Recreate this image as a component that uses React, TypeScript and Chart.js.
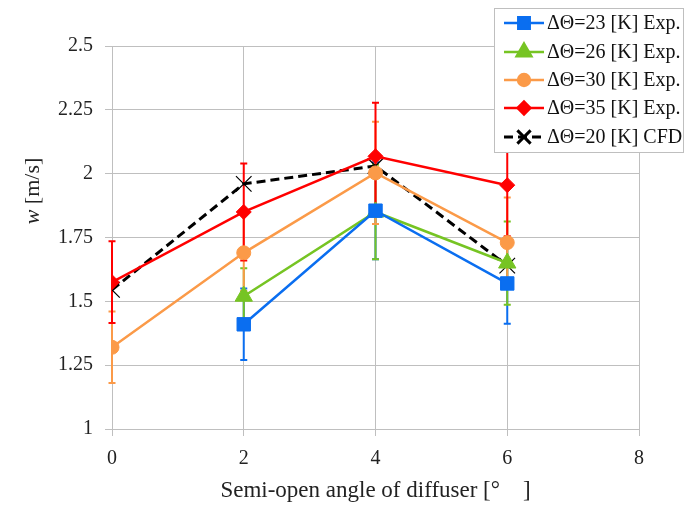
import React, { useEffect, useRef } from "react";
import { Chart, registerables } from "chart.js";
import { drawPoint } from "chart.js/helpers";

Chart.register(...registerables);

const xValues = [0, 2, 4, 6];
const dT23 = [null, 1.41, 1.855, 1.57];
const dT23Err = [null, 0.14, 0.19, 0.158];
const dT26 = [null, 1.52, 1.85, 1.65];
const dT26Err = [null, 0.11, 0.185, 0.163];
const dT30 = [1.32, 1.69, 2.003, 1.73];
const dT30Err = [0.14, 0.15, 0.2, 0.177];
const dT35 = [1.575, 1.85, 2.068, 1.955];
const dT35Err = [0.16, 0.19, 0.21, 0.2];
const cfd20 = [1.545, 1.96, 2.03, 1.64];

const labels = [
  "ΔΘ=23 [K] Exp.",
  "ΔΘ=26 [K] Exp.",
  "ΔΘ=30 [K] Exp.",
  "ΔΘ=35 [K] Exp.",
  "ΔΘ=20 [K] CFD",
];

const FONT = "'Liberation Serif', serif";

const toPts = (arr: (number | null)[]) =>
  xValues.map((x, i) => ({ x, y: arr[i] })).filter((p) => p.y !== null);

export default function App() {
  const ref = useRef<HTMLCanvasElement>(null);
  useEffect(() => {
    if (!ref.current) return;
    const errs = [dT23Err, dT26Err, dT30Err, dT35Err, null];
    const series = [dT23, dT26, dT30, dT35, cfd20];

    const errorBars = {
      id: "errorBars",
      beforeDatasetsDraw(chart: any) {
        const ctx = chart.ctx;
        const xs = chart.scales.x;
        const ys = chart.scales.y;
        series.forEach((s, di) => {
          const e = errs[di];
          if (!e) return;
          const color = chart.data.datasets[di].borderColor;
          ctx.save();
          ctx.strokeStyle = color;
          ctx.lineWidth = 2;
          xValues.forEach((x, i) => {
            const v = s[i];
            const er = e[i];
            if (v === null || er === null) return;
            const px = xs.getPixelForValue(x);
            const top = ys.getPixelForValue(v + er);
            const bot = ys.getPixelForValue(v - er);
            ctx.beginPath();
            ctx.moveTo(px, top);
            ctx.lineTo(px, bot);
            ctx.moveTo(px - 3.5, top);
            ctx.lineTo(px + 3.5, top);
            ctx.moveTo(px - 3.5, bot);
            ctx.lineTo(px + 3.5, bot);
            ctx.stroke();
          });
          ctx.restore();
        });
      },
    };

    const legendAndTitle = {
      id: "legendAndTitle",
      afterDraw(chart: any) {
        const ctx = chart.ctx;
        ctx.save();
        // y axis title
        ctx.translate(33, 191);
        ctx.rotate(-Math.PI / 2);
        ctx.fillStyle = "#222";
        ctx.textBaseline = "middle";
        const f1 = `italic 22px ${FONT}`;
        const f2 = `22px ${FONT}`;
        ctx.font = f1;
        const w1 = ctx.measureText("w").width;
        ctx.font = f2;
        const w2 = ctx.measureText(" [m/s]").width;
        const start = -(w1 + w2) / 2;
        ctx.font = f1;
        ctx.textAlign = "left";
        ctx.fillText("w", start, 0);
        ctx.font = f2;
        ctx.fillText(" [m/s]", start + w1, 0);
        ctx.restore();

        // legend
        ctx.save();
        const bx = 494, by = 8, bw = 189, bh = 144;
        ctx.fillStyle = "#fff";
        ctx.fillRect(bx, by, bw, bh);
        ctx.strokeStyle = "#bfbfbf";
        ctx.lineWidth = 1;
        ctx.strokeRect(bx + 0.5, by + 0.5, bw, bh);
        const rows = [23, 52, 80, 108, 137];
        chart.data.datasets.forEach((ds: any, i: number) => {
          const y = rows[i];
          ctx.save();
          ctx.strokeStyle = ds.borderColor;
          ctx.lineWidth = ds.borderWidth;
          ctx.setLineDash(ds.borderDash || []);
          ctx.beginPath();
          ctx.moveTo(504, y);
          ctx.lineTo(544, y);
          ctx.stroke();
          ctx.setLineDash([]);
          ctx.fillStyle = ds.pointBackgroundColor;
          ctx.strokeStyle = ds.pointBorderColor;
          drawPoint(
            ctx,
            {
              pointStyle: ds.pointStyle,
              radius: ds.pointRadius * 0.85,
              rotation: 0,
              borderWidth: ds.pointBorderWidth,
            } as any,
            524,
            y
          );
          ctx.restore();
          ctx.fillStyle = "#111";
          ctx.font = `20px ${FONT}`;
          ctx.textAlign = "left";
          ctx.textBaseline = "middle";
          ctx.fillText(labels[i], 547, y + 1);
        });
        ctx.restore();
      },
    };

    const mk = (
      i: number,
      data: (number | null)[],
      color: string,
      style: string,
      radius: number,
      extra: any = {}
    ) => ({
      label: labels[i],
      data: toPts(data),
      borderColor: color,
      backgroundColor: color,
      pointBackgroundColor: color,
      pointBorderColor: color,
      pointStyle: style,
      pointRadius: radius,
      pointBorderWidth: 1,
      borderWidth: 2.5,
      tension: 0,
      ...extra,
    });

    const chart = new Chart(ref.current, {
      type: "line",
      data: {
        datasets: [
          mk(0, dT23, "#0a6ef0", "rect", 9.5),
          mk(1, dT26, "#76c423", "triangle", 10),
          mk(2, dT30, "#fb9a48", "circle", 7),
          mk(3, dT35, "#ff0000", "rectRot", 7.5),
          mk(4, cfd20, "#000000", "crossRot", 11, {
            borderDash: [9, 5],
            borderWidth: 3,
            pointBorderWidth: 1.2,
          }),
        ] as any,
      },
      plugins: [errorBars, legendAndTitle],
      options: {
        animation: false,
        responsive: true,
        maintainAspectRatio: false,
        layout: { padding: { top: 46, right: 48, left: 0, bottom: 0 } },
        plugins: {
          legend: { display: false },
          tooltip: { enabled: false },
        },
        scales: {
          x: {
            type: "linear",
            min: 0,
            max: 8,
            ticks: {
              stepSize: 2,
              color: "#222",
              font: { family: FONT, size: 20 },
              padding: 11,
              maxRotation: 0,
            },
            grid: { color: "#bfbfbf", tickLength: 7, lineWidth: 1 },
            border: { color: "#bfbfbf" },
            title: {
              display: true,
              text: "Semi-open angle of diffuser [°\u2003]",
              color: "#222",
              font: { family: FONT, size: 23 },
              padding: { top: 0, bottom: 1 },
            },
            afterFit(scale: any) {
              scale.height = 77;
            },
          },
          y: {
            type: "linear",
            min: 1,
            max: 2.5,
            ticks: {
              stepSize: 0.25,
              color: "#222",
              font: { family: FONT, size: 20 },
              padding: 12,
              callback: (v: any) => String(Number(Number(v).toFixed(2))),
            },
            grid: { color: "#bfbfbf", tickLength: 7, lineWidth: 1 },
            border: { color: "#bfbfbf" },
            afterFit(scale: any) {
              scale.width = 112;
            },
          },
        },
      } as any,
    });
    return () => chart.destroy();
  }, []);

  return (
    <div style={{ position: "fixed", left: 0, top: 0, width: 687, height: 506, background: "#fff" }}>
      <canvas ref={ref} />
    </div>
  );
}
